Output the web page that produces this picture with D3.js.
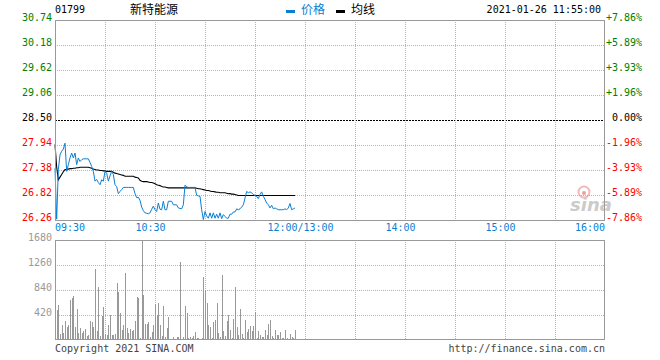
<!DOCTYPE html>
<html><head><meta charset="utf-8">
<script src="https://cdn.jsdelivr.net/npm/d3@7/dist/d3.min.js"></script>
<style>
body{margin:0;background:#fff;}
svg text{font-family:"DejaVu Sans Mono",monospace;font-size:10px;}
</style></head>
<body><svg id="c" width="660" height="360"></svg>
<script>
const code = "01799";
const stockName = "新特能源";
const legendNames = ["价格", "均线"];
const timestamp = "2021-01-26 11:55:00";
const prevClose = 28.50;
const priceTicks = [30.74, 30.18, 29.62, 29.06, 28.50, 27.94, 27.38, 26.82, 26.26];
const pctTicks = ["+7.86%", "+5.89%", "+3.93%", "+1.96%", "0.00%", "-1.96%", "-3.93%", "-5.89%", "-7.86%"];
const volTicks = [1680, 1260, 840, 420];
const timeLabels = ["09:30", "10:30", "12:00/13:00", "14:00", "15:00", "16:00"];
const timeLabelMinutes = [0, 60, 150, 210, 270, 330];
const gridMinutes = [30, 60, 90, 120, 150, 180, 210, 240, 270, 300];

// minute-by-minute price (09:30 -> 11:54)
const price = [
27.42,26.28,27.39,27.72,27.80,27.85,27.98,27.35,27.50,27.65,
27.76,27.65,27.76,27.50,27.65,27.57,27.61,27.63,27.63,27.63,
27.63,27.55,27.46,27.35,27.13,27.17,27.10,27.05,27.16,27.13,
27.35,27.31,27.13,27.25,27.35,27.28,27.05,27.01,26.85,26.90,
26.94,26.99,26.99,26.99,26.99,26.99,26.99,26.99,26.85,26.76,
26.77,26.70,26.55,26.47,26.42,26.41,26.40,26.42,26.50,26.57,
26.49,26.45,26.64,26.50,26.49,26.68,26.49,26.49,26.68,26.68,
26.68,26.60,26.60,26.60,26.53,26.52,26.51,26.60,27.04,27.00,
26.99,26.99,26.99,26.99,26.99,26.81,26.80,26.79,26.49,26.27,
26.45,26.35,26.30,26.42,26.30,26.42,26.30,26.39,26.30,26.42,
26.29,26.38,26.34,26.30,26.30,26.39,26.39,26.44,26.44,26.51,
26.49,26.51,26.55,26.60,26.75,26.90,26.87,26.89,26.87,26.83,
26.81,26.79,26.74,26.83,26.89,26.79,26.72,26.64,26.60,26.53,
26.59,26.51,26.53,26.51,26.49,26.49,26.49,26.49,26.51,26.49,
26.53,26.63,26.49,26.51,26.53];

const avgPrice = [
27.95,27.45,27.16,27.22,27.28,27.34,27.39,27.39,27.40,27.41,
27.41,27.42,27.42,27.43,27.43,27.44,27.44,27.44,27.44,27.44,
27.44,27.43,27.42,27.40,27.39,27.38,27.38,27.37,27.37,27.36,
27.36,27.35,27.35,27.35,27.35,27.33,27.31,27.30,27.29,27.28,
27.27,27.26,27.24,27.24,27.24,27.24,27.24,27.24,27.22,27.21,
27.20,27.15,27.13,27.12,27.12,27.12,27.11,27.10,27.10,27.09,
27.07,27.05,27.04,27.03,27.01,27.00,27.00,26.99,26.98,26.98,
26.98,26.98,26.98,26.98,26.98,26.98,26.98,26.98,26.98,26.98,
26.98,26.98,26.98,26.98,26.98,26.97,26.96,26.96,26.95,26.94,
26.93,26.92,26.92,26.91,26.90,26.90,26.89,26.88,26.88,26.87,
26.87,26.87,26.87,26.86,26.85,26.85,26.84,26.84,26.83,26.82,
26.81,26.81,26.81,26.81,26.81,26.81,26.81,26.81,26.81,26.81,
26.81,26.81,26.81,26.81,26.81,26.81,26.81,26.81,26.81,26.81,
26.81,26.81,26.81,26.81,26.81,26.81,26.81,26.81,26.81,26.81,
26.81,26.81,26.81,26.81,26.81];

const volume = [
300,509,593,101,246,118,325,213,246,677,
705,733,218,526,118,202,118,157,185,73,
90,314,302,218,1193,146,890,67,409,554,
106,90,246,414,78,90,106,958,806,454,
162,246,1126,202,118,185,146,160,314,722,
706,34,1680,750,269,269,302,50,134,246,
605,414,622,246,73,566,45,202,381,17,
17,45,17,50,50,1310,17,45,566,454,
34,45,34,73,129,34,34,20,34,1053,
834,622,246,213,34,297,330,622,118,45,
1086,157,67,314,414,162,34,353,885,213,
90,526,101,34,330,134,185,230,157,230,
470,34,157,90,45,50,162,90,269,330,
73,34,162,90,90,129,34,34,162,34,
20,106,45,34,162];

const svg = d3.select("#c");
const L = 55, R = 605, PT = 20, PB = 220, VT = 240, VB = 340;
const x = d3.scaleLinear().domain([0, 330]).range([L, R]);
const yP = d3.scaleLinear().domain([26.26, 30.74]).range([PB, PT]);
const yV = d3.scaleLinear().domain([0, 1680]).range([VB, VT]);

const gridCol = "#b4b4b4";
const g = svg.append("g");
priceTicks.forEach(t => {
  if (t === 30.74 || t === 26.26) return;
  const yy = Math.round(yP(t)) + 0.5;
  g.append("line").attr("x1", L).attr("x2", R).attr("y1", yy).attr("y2", yy)
    .attr("stroke", t === prevClose ? "#000" : gridCol)
    .attr("stroke-dasharray", t === prevClose ? "2,1" : "1,1");
});
gridMinutes.forEach(m => {
  const xx = Math.round(x(m)) + 0.5;
  g.append("line").attr("x1", xx).attr("x2", xx).attr("y1", PT).attr("y2", PB)
    .attr("stroke", gridCol).attr("stroke-dasharray", "1,1");
  g.append("line").attr("x1", xx).attr("x2", xx).attr("y1", VT).attr("y2", VB)
    .attr("stroke", gridCol).attr("stroke-dasharray", "1,1");
});
volTicks.forEach(t => {
  if (t === 1680) return;
  const yy = Math.round(yV(t)) + 0.5;
  g.append("line").attr("x1", L).attr("x2", R).attr("y1", yy).attr("y2", yy)
    .attr("stroke", gridCol).attr("stroke-dasharray", "1,1");
});

// watermark
const wm = svg.append("g").attr("opacity", 0.6);
wm.append("circle").attr("cx", 584).attr("cy", 192).attr("r", 5.5).attr("fill", "none").attr("stroke", "#f08a8a").attr("stroke-width", 2);
wm.append("circle").attr("cx", 584).attr("cy", 193).attr("r", 2).attr("fill", "#e06060");
wm.append("text").attr("x", 570).attr("y", 211).text("sina")
  .style("font-family", "DejaVu Sans").style("font-size", "18px").style("font-style", "italic").style("font-weight", "bold").attr("fill", "#aaa");

// volume bars
svg.append("g").selectAll("rect").data(volume).join("rect")
  .attr("x", (d, i) => Math.round(x(i)))
  .attr("y", d => Math.round(yV(d)))
  .attr("width", 1)
  .attr("height", d => VB - Math.round(yV(d)))
  .attr("fill", "#999");

// lines
const lineGen = d3.line().x((d, i) => x(i)).y(d => yP(d));
svg.append("path").datum(avgPrice).attr("d", lineGen).attr("fill", "none")
  .attr("stroke", "#000").attr("stroke-width", 1.1);
svg.append("path").datum(price).attr("d", lineGen).attr("fill", "none")
  .attr("stroke", "#0a7fd2").attr("stroke-width", 1);

// borders
svg.append("rect").attr("x", L + 0.5).attr("y", PT + 0.5).attr("width", R - L - 1).attr("height", PB - PT)
  .attr("fill", "none").attr("stroke", "#999");
svg.append("rect").attr("x", L + 0.5).attr("y", VT + 0.5).attr("width", R - L - 1).attr("height", VB - VT - 1)
  .attr("fill", "none").attr("stroke", "#999");

svg.append("g").selectAll("text").data(priceTicks).join("text")
  .attr("x", 52).attr("y", d => yP(d) + 1)
  .attr("text-anchor", "end")
  .attr("fill", d => d > prevClose ? "#008000" : (d < prevClose ? "#f00" : "#000"))
  .text(d => d.toFixed(2));
svg.append("g").selectAll("text").data(pctTicks).join("text")
  .attr("x", 642).attr("y", (d, i) => yP(priceTicks[i]) + 1)
  .attr("text-anchor", "end")
  .attr("fill", (d, i) => priceTicks[i] > prevClose ? "#008000" : (priceTicks[i] < prevClose ? "#f00" : "#000"))
  .text(d => d);
svg.append("g").selectAll("text").data(volTicks).join("text")
  .attr("x", 52).attr("y", d => yV(d) + 1)
  .attr("text-anchor", "end").attr("fill", "#999")
  .text(d => d);
svg.append("g").selectAll("text").data(timeLabels).join("text")
  .attr("x", (d, i) => i === 0 ? L : (i === timeLabels.length - 1 ? R : x(timeLabelMinutes[i]) - 4.5))
  .attr("y", 231)
  .attr("text-anchor", (d, i) => i === 0 ? "start" : (i === timeLabels.length - 1 ? "end" : "middle"))
  .attr("fill", "#0a7fd2")
  .text(d => d);

// header
svg.append("text").attr("x", 55).attr("y", 13).attr("fill", "#000").text(code);
svg.append("text").attr("x", 130).attr("y", 14).attr("fill", "#000")
  .style("font-family", "'Noto Sans CJK SC'").style("font-size", "12px").text(stockName);
svg.append("rect").attr("x", 286).attr("y", 10).attr("width", 9).attr("height", 3).attr("fill", "#0a7fd2");
svg.append("text").attr("x", 301).attr("y", 14).attr("fill", "#0a7fd2")
  .style("font-family", "'Noto Sans CJK SC'").style("font-size", "12px").text(legendNames[0]);
svg.append("rect").attr("x", 336).attr("y", 10).attr("width", 9).attr("height", 3).attr("fill", "#000");
svg.append("text").attr("x", 351).attr("y", 14).attr("fill", "#000")
  .style("font-family", "'Noto Sans CJK SC'").style("font-size", "12px").text(legendNames[1]);
svg.append("text").attr("x", 601).attr("y", 13).attr("text-anchor", "end").attr("fill", "#000").text(timestamp);

// footer
svg.append("text").attr("x", 55).attr("y", 352).attr("fill", "#444").text("Copyright 2021 SINA.COM");
svg.append("text").attr("x", 605).attr("y", 352).attr("text-anchor", "end").attr("fill", "#444").text("http://finance.sina.com.cn");
</script></body></html>
